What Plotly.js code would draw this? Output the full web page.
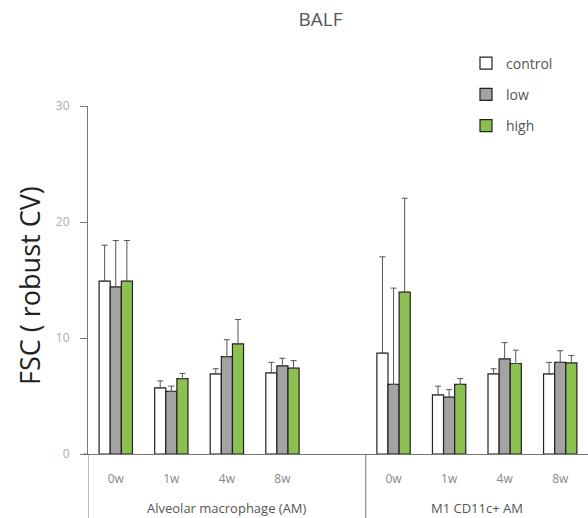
<!DOCTYPE html>
<html>
<head>
<meta charset="utf-8">
<script src="https://cdn.plot.ly/plotly-3.0.1.min.js"></script>
<style>html,body{margin:0;padding:0;background:#fff;}#chart{width:588px;height:518px;}</style>
</head>
<body>
<div id="chart"></div>
<script>
// ---- data ----
const groups = ["Alveolar macrophage (AM)", "M1 CD11c+ AM"];
const timepoints = ["0w", "1w", "4w", "8w"];
const seriesNames = ["control", "low", "high"];
// values ordered: AM 0w,1w,4w,8w, M1 0w,1w,4w,8w
const controlVals = [14.9, 5.7, 6.9, 7.0, 8.7, 5.1, 6.9, 6.9];
const controlErr  = [3.1, 0.6, 0.45, 0.9, 8.3, 0.75, 0.45, 1.0];
const lowVals     = [14.4, 5.4, 8.4, 7.6, 6.0, 4.9, 8.2, 7.9];
const lowErr      = [4.0, 0.45, 1.45, 0.65, 8.3, 0.65, 1.4, 1.0];
const highVals    = [14.9, 6.5, 9.5, 7.4, 13.95, 6.0, 7.8, 7.85];
const highErr     = [3.5, 0.45, 2.1, 0.65, 8.1, 0.5, 1.15, 0.65];
const yTicks = [0, 10, 20, 30];

// slot positions: each group gets timepoints plus one empty slot
const slotsPerGroup = timepoints.length + 1;
const xPos = [], xLabels = [];
groups.forEach((g, gi) => timepoints.forEach((t, ti) => { xPos.push(gi * slotsPerGroup + ti); xLabels.push(t); }));

const colors = ["#ffffff", "#a3a3a3", "#8cc152"];
const vals = [controlVals, lowVals, highVals];
const errs = [controlErr, lowErr, highErr];
const font = "'Open Sans', Lato, sans-serif";

const traces = seriesNames.map((n, i) => ({
  type: "bar", name: n, x: xPos, y: vals[i], legendgroup: n,
  marker: {color: colors[i], line: {color: "#222", width: 1.2}},
  error_y: {type: "data", symmetric: false, array: errs[i], arrayminus: errs[i].map(() => 0),
            color: "#555", thickness: 1, width: 3}
}));

const lastSlot = (groups.length - 1) * slotsPerGroup + timepoints.length - 1;
const groupCenters = groups.map((g, gi) => gi === groups.length - 1
  ? gi * slotsPerGroup + (timepoints.length - 1) / 2
  : gi * slotsPerGroup + (slotsPerGroup - 1) / 2);

const shapes = [
  {type: "line", xref: "x", yref: "paper", x0: -0.5, x1: -0.5, y0: 0, y1: -0.2, line: {color: "#777", width: 1}},
  {type: "line", xref: "paper", yref: "y", x0: -0.01, x1: 0, y0: 0, y1: 0, line: {color: "#777", width: 1}}
];
for (let gi = 1; gi < groups.length; gi++) {
  const xs = gi * slotsPerGroup - 0.5;
  shapes.push({type: "line", xref: "x", yref: "paper", x0: xs, x1: xs, y0: 0, y1: -0.2, line: {color: "#777", width: 1}});
}

const annotations = groups.map((g, gi) => ({
  text: g, xref: "x", yref: "paper", x: groupCenters[gi], y: -0.154, showarrow: false,
  xanchor: "center", yanchor: "middle", font: {family: font, size: 13, color: "#555"}
}));
annotations.push({
  text: "FSC ( robust CV)", xref: "paper", yref: "paper", x: -0.116, y: 0.483, showarrow: false,
  textangle: -90, xanchor: "center", yanchor: "middle", font: {family: font, size: 27, color: "#222"}
});

const layout = {
  width: 588, height: 518,
  margin: {l: 88, r: 0, t: 106, b: 64, autoexpand: false},
  paper_bgcolor: "#fff", plot_bgcolor: "#fff",
  font: {family: font, color: "#555"},
  title: {text: "BALF", x: 0.545, xanchor: "center", y: 0.963, yanchor: "middle", font: {family: font, size: 19, color: "#555"}},
  barmode: "group", bargap: 0.4, bargroupgap: 0,
  showlegend: true,
  legend: {x: 0.756, y: 1.168, xanchor: "left", yanchor: "top", traceorder: "grouped", tracegroupgap: 10,
           font: {family: font, size: 14, color: "#555"}, bgcolor: "rgba(0,0,0,0)"},
  xaxis: {range: [-0.5, lastSlot + 0.5], tickvals: xPos, ticktext: xLabels, showgrid: false, zeroline: false,
          showline: true, linecolor: "#777", linewidth: 1, ticks: "outside", ticklen: 14, tickcolor: "rgba(0,0,0,0)",
          tickfont: {family: font, size: 12, color: "#888"}, fixedrange: true},
  yaxis: {range: [0, 30], tickvals: yTicks, showgrid: false, zeroline: false, showline: true, linecolor: "#777",
          linewidth: 1, ticks: "outside", ticklen: 7, tickcolor: "#777", ticklabelstandoff: 8,
          tickfont: {family: font, size: 12, color: "#aaa"}, fixedrange: true},
  shapes: shapes, annotations: annotations
};

Plotly.newPlot("chart", traces, layout, {displayModeBar: false, staticPlot: true});
</script>
</body>
</html>
